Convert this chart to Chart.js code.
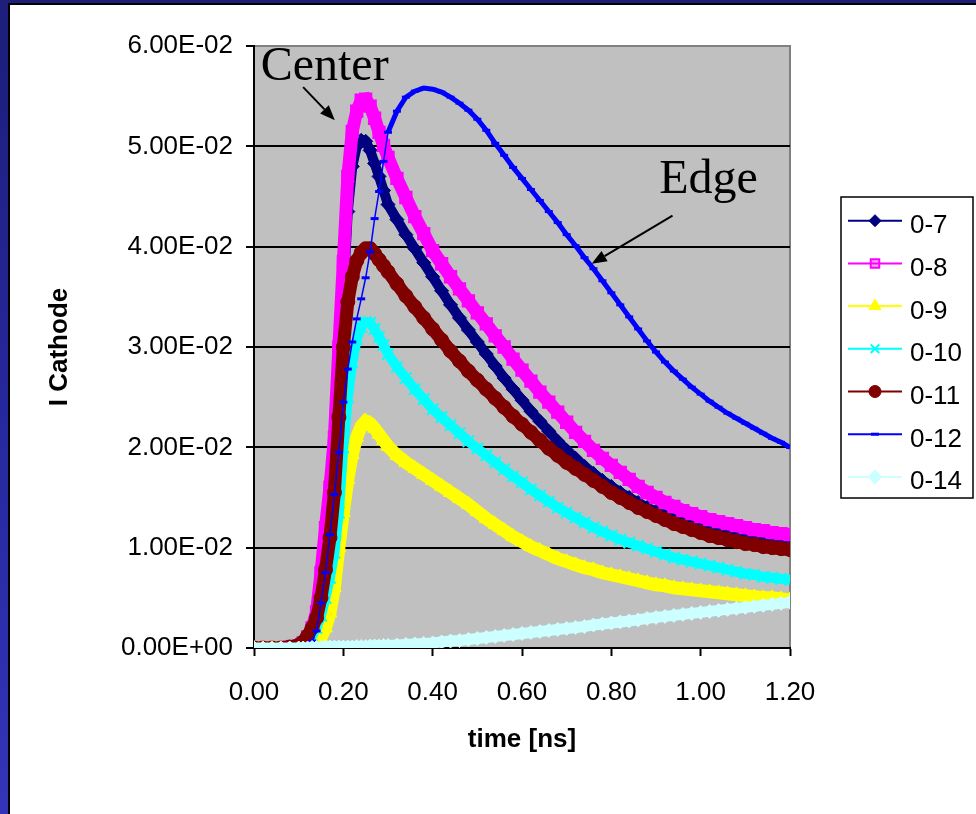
<!DOCTYPE html>
<html>
<head>
<meta charset="utf-8">
<title>I Cathode</title>
<script src="https://cdn.jsdelivr.net/npm/chart.js@4/dist/chart.umd.min.js"></script>
<style>
    html, body {
        margin: 0;
        width: 976px;
        height: 814px;
        overflow: hidden;
        background: linear-gradient(180deg, #1d1d7a 0%, #2828a0 55%, #3434b8 100%);
    }
    #panel {
        position: absolute;
        left: 8px;
        top: 3px;
        width: 990px;
        height: 830px;
        background: #ffffff;
        border-left: 2px solid #000;
        border-top: 2px solid #000;
    }
    #wrap {
        position: absolute;
        left: 0;
        top: 0;
        width: 976px;
        height: 814px;
    }
</style>
</head>
<body>
<div id="panel"></div>
<div id="wrap"><canvas id="chart"></canvas></div>
<script>
// time axis shared by all series
const TIME_NS = [
    0, 0.02, 0.04, 0.06, 0.08, 0.10,
    0.11, 0.12, 0.13, 0.14, 0.15, 0.16, 0.17, 0.18, 0.19, 0.20,
    0.21, 0.22, 0.23, 0.24, 0.25, 0.26, 0.27, 0.28, 0.29, 0.30,
    0.32, 0.34, 0.36, 0.38, 0.40, 0.42, 0.44, 0.46, 0.48, 0.50,
    0.52, 0.54, 0.56, 0.58, 0.60, 0.62, 0.64, 0.66, 0.68, 0.70,
    0.72, 0.74, 0.76, 0.78, 0.80, 0.82, 0.84, 0.86, 0.88, 0.90,
    0.92, 0.94, 0.96, 0.98, 1.00, 1.02, 1.04, 1.06, 1.08, 1.10,
    1.12, 1.14, 1.16, 1.18, 1.20
];

// cathode current per pad, in units of 1e-3
const I_0_7 = [
    0, 0, 0, 0, 0.1, 0.2,
    0.4, 0.9, 1.7, 3.0, 5.5, 9.5, 14.0, 19.0, 27.0, 35.0,
    43.5, 48.0, 50.0, 50.6, 50.5, 49.6, 48.3, 47.0, 45.6, 44.2,
    42.7, 41.2, 39.8, 38.4, 37.0, 35.6, 34.2, 32.9, 31.7, 30.5,
    29.3, 28.1, 26.9, 25.8, 24.7, 23.6, 22.6, 21.6, 20.6, 19.7,
    18.9, 18.1, 17.4, 16.7, 16.1, 15.5, 15.0, 14.5, 14.0, 13.6,
    13.2, 12.8, 12.5, 12.2, 11.9, 11.7, 11.5, 11.3, 11.1, 10.9,
    10.8, 10.7, 10.6, 10.5, 10.4
];
const I_0_8 = [
    0, 0, 0, 0, 0.1, 0.2,
    0.5, 1.1, 2.0, 3.6, 7.5, 12.0, 16.0, 21.0, 30.0, 38.5,
    47.0, 51.5, 53.5, 54.6, 54.7, 54.0, 52.8, 51.4, 50.1, 48.9,
    46.8, 44.9, 43.0, 41.3, 39.6, 38.3, 37.0, 35.8, 34.6, 33.4,
    32.3, 31.1, 30.0, 28.8, 27.7, 26.6, 25.5, 24.5, 23.5, 22.5,
    21.5, 20.6, 19.7, 18.9, 18.2, 17.5, 16.8, 16.1, 15.5, 15.0,
    14.5, 14.1, 13.7, 13.4, 13.1, 12.8, 12.6, 12.4, 12.2, 12.0,
    11.8, 11.7, 11.5, 11.4, 11.3
];
const I_0_9 = [
    0, 0, 0, 0, 0, 0,
    0.1, 0.2, 0.3, 0.5, 1.0, 2.0, 3.5, 6.0, 10.0, 13.5,
    16.8, 19.3, 21.0, 22.1, 22.6, 22.4, 21.9, 21.3, 20.7, 20.1,
    19.2, 18.5, 17.9, 17.3, 16.7, 16.1, 15.5, 14.9, 14.3, 13.6,
    12.9, 12.3, 11.7, 11.1, 10.6, 10.1, 9.7, 9.3, 8.9, 8.6,
    8.3, 8.0, 7.8, 7.5, 7.3, 7.1, 6.9, 6.7, 6.5, 6.3,
    6.2, 6.0, 5.9, 5.8, 5.7, 5.6, 5.5, 5.4, 5.3, 5.2,
    5.1, 5.0, 5.0, 4.9, 4.8
];
const I_0_10 = [
    0, 0, 0, 0, 0, 0.1,
    0.3, 0.6, 1.2, 2.0, 3.2, 5.0, 7.0, 9.5, 13.5, 20.0,
    25.0, 28.5, 30.8, 32.0, 32.5, 32.4, 31.8, 31.0, 30.2, 29.3,
    28.0, 26.9, 25.8, 24.8, 23.8, 23.0, 22.2, 21.4, 20.6, 19.9,
    19.2, 18.5, 17.8, 17.1, 16.5, 15.8, 15.2, 14.6, 14.0, 13.5,
    13.0, 12.5, 12.0, 11.6, 11.2, 10.8, 10.5, 10.2, 9.9, 9.6,
    9.3, 9.0, 8.8, 8.6, 8.4, 8.2, 8.0, 7.8, 7.6, 7.4,
    7.3, 7.1, 7.0, 6.9, 6.8
];
const I_0_11 = [
    0, 0, 0, 0, 0.1, 0.3,
    0.6, 1.2, 2.0, 3.0, 5.0, 7.8, 11.0, 15.5, 23.0, 30.0,
    34.5, 37.0, 38.6, 39.4, 39.8, 39.8, 39.3, 38.7, 38.1, 37.5,
    36.3, 35.1, 34.0, 32.9, 31.8, 30.7, 29.6, 28.6, 27.6, 26.7,
    25.8, 24.9, 24.0, 23.1, 22.3, 21.5, 20.7, 19.9, 19.2, 18.5,
    17.9, 17.3, 16.7, 16.1, 15.5, 15.0, 14.5, 14.0, 13.6, 13.2,
    12.8, 12.4, 12.1, 11.8, 11.5, 11.2, 11.0, 10.8, 10.6, 10.4,
    10.3, 10.1, 10.0, 9.9, 9.8
];
const I_0_12 = [
    0, 0, 0, 0, 0, 0.1,
    0.2, 0.4, 0.7, 1.7, 4.5, 7.5, 11.3, 15.3, 19.5, 24.5,
    27.8, 30.5, 32.8, 34.8, 36.9, 39.5, 42.8, 45.5, 48.5, 51.4,
    53.5, 54.9, 55.5, 55.8, 55.7, 55.4, 54.9, 54.3, 53.6, 52.7,
    51.6, 50.3, 49.1, 47.9, 46.8, 45.7, 44.6, 43.5, 42.4, 41.2,
    40.1, 38.9, 37.8, 36.6, 35.4, 34.2, 33.0, 31.8, 30.6, 29.5,
    28.5, 27.6, 26.8, 26.0, 25.3, 24.6, 24.0, 23.4, 22.9, 22.4,
    21.9, 21.4, 20.9, 20.5, 20.0
];
const I_0_14 = [
    0, 0, 0, 0, 0, 0,
    0, 0, 0.05, 0.05, 0.05, 0.1, 0.1, 0.1, 0.1, 0.1,
    0.1, 0.1, 0.15, 0.15, 0.15, 0.2, 0.2, 0.2, 0.25, 0.25,
    0.3, 0.35, 0.4, 0.45, 0.5, 0.6, 0.7, 0.75, 0.85, 0.95,
    1.05, 1.15, 1.25, 1.35, 1.45, 1.55, 1.65, 1.75, 1.85, 1.95,
    2.05, 2.15, 2.3, 2.4, 2.5, 2.6, 2.7, 2.8, 2.95, 3.05,
    3.15, 3.25, 3.35, 3.45, 3.55, 3.65, 3.75, 3.85, 3.95, 4.05,
    4.15, 4.25, 4.35, 4.45, 4.55
];
const UNIT = 1e-3;

const SERIES_NAMES = ["0-7", "0-8", "0-9", "0-10", "0-11", "0-12", "0-14"];
const SERIES_VALUES = [I_0_7, I_0_8, I_0_9, I_0_10, I_0_11, I_0_12, I_0_14];

const X_TICKS = [0, 0.2, 0.4, 0.6, 0.8, 1.0, 1.2];
const Y_TICKS = [0, 0.01, 0.02, 0.03, 0.04, 0.05, 0.06];

// line / marker look of each series; the heavy lines stand in for the
// crowded markers that merge into a solid band
const STYLES = [
    { color: "#000080", fill: "#000080", marker: "rectRot", radius: 7, line: 10, mBorder: 1, key: 6 },
    { color: "#ff00ff", fill: "rgba(255,0,255,0.35)", marker: "rect", radius: 8, line: 13, mBorder: 2, key: 6 },
    { color: "#ffff00", fill: "#ffff00", marker: "triangle", radius: 8, line: 13, mBorder: 1, key: 7 },
    { color: "#00ffff", fill: "#00ffff", marker: "crossRot", radius: 8, line: 10, mBorder: 2, key: 6 },
    { color: "#800000", fill: "#800000", marker: "circle", radius: 7, line: 13, mBorder: 1, key: 6 },
    { color: "#0000ff", fill: "#0000ff", marker: "line", radius: 4, line: 5, mBorder: 3, key: 4 },
    { color: "#ccffff", fill: "#ccffff", marker: "rectRot", radius: 7, line: 11, mBorder: 1, key: 7 },
];

// text callouts, placed in data units: [time, current]
const CALLOUTS = [
    { text: "Center", at: [0.015, 0.0566], from: [0.110, 0.0559], to: [0.181, 0.0526] },
    { text: "Edge", at: [0.907, 0.0453], from: [0.937, 0.0431], to: [0.756, 0.0383] },
];

const SANS = "'Liberation Sans', Arial, sans-serif";
const SERIF = "'Liberation Serif', 'Times New Roman', serif";

function sci(v) {
    const s = Number(v).toExponential(2).toUpperCase();
    return s.replace(/E([+-])(\d)$/, "E$10$2");
}

const datasets = SERIES_NAMES.map((name, i) => {
    const st = STYLES[i];
    const ds = {
        label: name,
        data: TIME_NS.map((t, k) => ({ x: t, y: SERIES_VALUES[i][k] * UNIT })),
        borderColor: st.color,
        backgroundColor: st.fill,
        borderWidth: st.line,
        pointStyle: st.marker,
        pointRadius: st.radius,
        pointBackgroundColor: st.fill,
        pointBorderColor: st.color,
        pointBorderWidth: st.mBorder,
        tension: 0,
        fill: false,
        order: SERIES_NAMES.length - 1 - i,
    };
    if (name === "0-12") {
        // thin trace on the fast rise, heavier where the points crowd together
        ds.segment = { borderWidth: (c) => (c.p0.parsed.x < 0.3 ? 1.5 : 5) };
    }
    return ds;
});

const plotFrame = {
    id: "plotFrame",
    beforeDraw(chart) {
        const { ctx, chartArea: a } = chart;
        ctx.save();
        ctx.fillStyle = "#c0c0c0";
        ctx.fillRect(a.left, a.top, a.right - a.left, a.bottom - a.top);
        ctx.strokeStyle = "#808080";
        ctx.lineWidth = 2;
        ctx.beginPath();
        ctx.moveTo(a.left, a.top);
        ctx.lineTo(a.right, a.top);
        ctx.lineTo(a.right, a.bottom);
        ctx.stroke();
        ctx.restore();
    },
};

function arrow(ctx, x0, y0, x1, y1) {
    const ang = Math.atan2(y1 - y0, x1 - x0);
    const len = 15, half = 6;
    const bx = x1 - len * Math.cos(ang), by = y1 - len * Math.sin(ang);
    ctx.beginPath();
    ctx.moveTo(x0, y0);
    ctx.lineTo(bx, by);
    ctx.stroke();
    ctx.beginPath();
    ctx.moveTo(x1, y1);
    ctx.lineTo(bx + half * Math.sin(ang), by - half * Math.cos(ang));
    ctx.lineTo(bx - half * Math.sin(ang), by + half * Math.cos(ang));
    ctx.closePath();
    ctx.fill();
}

const callouts = {
    id: "callouts",
    afterDatasetsDraw(chart) {
        const { ctx, scales } = chart;
        const px = (p) => [scales.x.getPixelForValue(p[0]), scales.y.getPixelForValue(p[1])];
        ctx.save();
        ctx.fillStyle = "#000";
        ctx.strokeStyle = "#000";
        ctx.lineWidth = 2;
        ctx.font = "48px " + SERIF;
        ctx.textBaseline = "alphabetic";
        ctx.textAlign = "left";
        CALLOUTS.forEach((c) => {
            const [tx, ty] = px(c.at);
            ctx.fillText(c.text, tx, ty);
            const [x0, y0] = px(c.from);
            const [x1, y1] = px(c.to);
            arrow(ctx, x0, y0, x1, y1);
        });
        ctx.restore();
    },
};

const boxLegend = {
    id: "boxLegend",
    afterDraw(chart) {
        const { ctx } = chart;
        const left = 841, top = 197, w = 132, h = 301;
        const rowH = 42.7, firstY = 220.7;
        ctx.save();
        ctx.fillStyle = "#ffffff";
        ctx.fillRect(left, top, w, h);
        ctx.strokeStyle = "#000";
        ctx.lineWidth = 1.5;
        ctx.strokeRect(left, top, w, h);
        ctx.font = "26px " + SANS;
        ctx.textBaseline = "alphabetic";
        ctx.textAlign = "left";
        chart.data.datasets.forEach((ds, i) => {
            const st = STYLES[i];
            const y = firstY + i * rowH;
            ctx.strokeStyle = st.color;
            ctx.lineWidth = 2;
            ctx.beginPath();
            ctx.moveTo(848, y);
            ctx.lineTo(902, y);
            ctx.stroke();
            ctx.fillStyle = st.fill;
            ctx.lineWidth = st.mBorder;
            Chart.helpers.drawPoint(ctx, {
                pointStyle: st.marker,
                radius: st.key,
                rotation: 0,
                borderWidth: st.mBorder,
            }, 875, y);
            ctx.fillStyle = "#000";
            ctx.fillText(ds.label, 910, y + 12.5);
        });
        ctx.restore();
    },
};

new Chart(document.getElementById("chart"), {
    type: "line",
    data: { datasets },
    options: {
        responsive: true,
        maintainAspectRatio: false,
        animation: false,
        devicePixelRatio: 1,
        layout: { padding: { left: 0, top: 46, right: 186, bottom: 0 } },
        plugins: {
            legend: { display: false },
            tooltip: { enabled: false },
        },
        scales: {
            x: {
                type: "linear",
                min: X_TICKS[0],
                max: X_TICKS[X_TICKS.length - 1],
                afterBuildTicks: (s) => { s.ticks = X_TICKS.map((v) => ({ value: v })); },
                afterFit: (s) => { s.height = 166; },
                ticks: {
                    callback: (v) => Number(v).toFixed(2),
                    color: "#000",
                    font: { family: SANS, size: 26 },
                    padding: 21,
                    maxRotation: 0,
                    autoSkip: false,
                },
                grid: {
                    drawOnChartArea: false,
                    drawTicks: true,
                    tickLength: 8,
                    tickColor: "#000",
                    tickWidth: 2,
                },
                border: { color: "#000", width: 2 },
                title: {
                    display: true,
                    text: "time [ns]",
                    color: "#000",
                    font: { family: SANS, size: 26, weight: "bold" },
                    padding: { top: 0, bottom: 59 },
                },
            },
            y: {
                type: "linear",
                min: Y_TICKS[0],
                max: Y_TICKS[Y_TICKS.length - 1],
                afterBuildTicks: (s) => { s.ticks = Y_TICKS.map((v) => ({ value: v })); },
                afterFit: (s) => { s.width = 254; },
                ticks: {
                    callback: (v) => sci(v),
                    color: "#000",
                    font: { family: SANS, size: 26 },
                    padding: 13,
                    autoSkip: false,
                },
                grid: {
                    color: (c) => (c.tick && c.tick.value > 0.0599 ? "rgba(0,0,0,0)" : "#000"),
                    lineWidth: 2,
                    drawTicks: true,
                    tickLength: 8,
                    tickColor: "#000",
                    tickWidth: 2,
                },
                border: { color: "#000", width: 2 },
                title: {
                    display: true,
                    text: "I Cathode",
                    color: "#000",
                    font: { family: SANS, size: 26, weight: "bold" },
                    padding: { top: 44, bottom: 0 },
                },
            },
        },
    },
    plugins: [plotFrame, callouts, boxLegend],
});
</script>
</body>
</html>
